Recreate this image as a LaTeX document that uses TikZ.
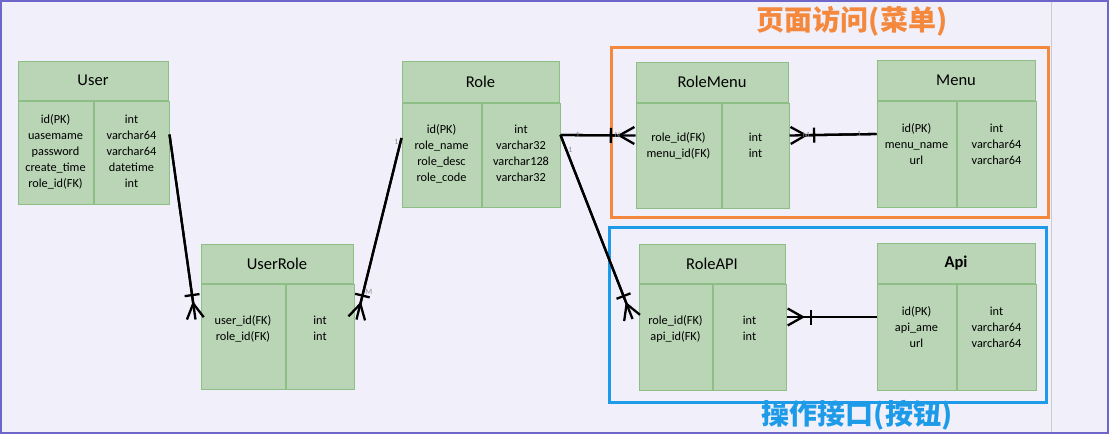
\documentclass[tikz,border=0pt]{standalone}
\usepackage{fontspec}
\setmainfont{Carlito}
\newfontfamily\cjk{Noto Sans CJK SC}
\usepackage{tikz}
\usetikzlibrary{arrows.meta,positioning}
\definecolor{bgpage}{HTML}{F1F0FA}
\definecolor{framec}{HTML}{6F66C9}
\definecolor{tabfill}{HTML}{B9D5B5}
\definecolor{tabline}{HTML}{8DBE86}
\definecolor{menuc}{HTML}{F4883D}
\definecolor{apic}{HTML}{1E9BE8}
\tikzset{
  tab/.style = {draw=tabline, fill=tabfill, line width=1pt, inner sep=0pt},
  hdr/.style = {tab, font=\fontsize{16.5}{18}\selectfont},
  fld/.style = {align=center, inner sep=0pt, anchor=north,
                font=\fontsize{12.3}{16}\selectfont},
  rel/.style = {line width=2.3pt,
                postaction={draw, line width=2.3pt,
                  -{Bar[width=15pt,sep=5pt] Straight Barb[reversed,length=15pt,width=17pt]}}},
  card/.style = {font=\fontsize{8}{9}\selectfont, text=black!45, inner sep=1pt}
}

\begin{document}
\begin{tikzpicture}[x=1pt, y=-1pt]
    \useasboundingbox (0,0) rectangle (1109,434);
    \fill[bgpage] (0,0) rectangle (1109,434);
    \draw[black!20, line width=1pt] (1051,0) -- (1051,434);
    \draw[framec, line width=2pt] (1,1) rectangle (1108,433);

    \node[draw=menuc, line width=3pt, minimum width=437pt, minimum height=170pt] (menugrp) at (829.5,132) {};
    \node[draw=apic, line width=3pt, minimum width=437pt, minimum height=175pt] (apigrp) at (827.5,314.5) {};
    \node[text=menuc, font=\cjk\bfseries\fontsize{28}{30}\selectfont] (menutitle) at (852,21) {页面访问(菜单)};
    \node[text=apic, font=\cjk\bfseries\fontsize{28}{30}\selectfont] (apititle) at (857,415) {操作接口(按钮)};

    \node[hdr, minimum width=150pt, minimum height=39pt] (user) at (93,80.5) {User};
    \node[tab, minimum width=75pt, minimum height=103pt, anchor=north west] (user-l) at (user.south west) {};
    \node[tab, minimum width=75pt, minimum height=103pt, anchor=north west] (user-r) at (user-l.north east) {};
    \node[fld, below=14pt of user-l.north] (user-lt) {id(PK)\\uasemame\\password\\create\_time\\role\_id(FK)};
    \node[fld, below=14pt of user-r.north] (user-rt) {int\\varchar64\\varchar64\\datetime\\int};

    \node[hdr, minimum width=152pt, minimum height=39pt] (userrole) at (277,263.5) {UserRole};
    \node[tab, minimum width=84pt, minimum height=105pt, anchor=north west] (userrole-l) at (userrole.south west) {};
    \node[tab, minimum width=68pt, minimum height=105pt, anchor=north west] (userrole-r) at (userrole-l.north east) {};
    \node[fld, below=32pt of userrole-l.north] (userrole-lt) {user\_id(FK)\\role\_id(FK)};
    \node[fld, below=32pt of userrole-r.north] (userrole-rt) {int\\int};

    \node[hdr, minimum width=157pt, minimum height=41pt] (role) at (480.5,81.5) {Role};
    \node[tab, minimum width=79pt, minimum height=104pt, anchor=north west] (role-l) at (role.south west) {};
    \node[tab, minimum width=78pt, minimum height=104pt, anchor=north west] (role-r) at (role-l.north east) {};
    \node[fld, below=22pt of role-l.north] (role-lt) {id(PK)\\role\_name\\role\_desc\\role\_code};
    \node[fld, below=22pt of role-r.north] (role-rt) {int\\varchar32\\varchar128\\varchar32};

    \node[hdr, minimum width=152pt, minimum height=40pt] (rolemenu) at (712,82) {RoleMenu};
    \node[tab, minimum width=85pt, minimum height=105pt, anchor=north west] (rolemenu-l) at (rolemenu.south west) {};
    \node[tab, minimum width=67pt, minimum height=105pt, anchor=north west] (rolemenu-r) at (rolemenu-l.north east) {};
    \node[fld, below=30pt of rolemenu-l.north] (rolemenu-lt) {role\_id(FK)\\menu\_id(FK)};
    \node[fld, below=30pt of rolemenu-r.north] (rolemenu-rt) {int\\int};

    \node[hdr, minimum width=158pt, minimum height=40pt] (menu) at (956,80) {Menu};
    \node[tab, minimum width=79pt, minimum height=106pt, anchor=north west] (menu-l) at (menu.south west) {};
    \node[tab, minimum width=79pt, minimum height=106pt, anchor=north west] (menu-r) at (menu-l.north east) {};
    \node[fld, below=23pt of menu-l.north] (menu-lt) {id(PK)\\menu\_name\\url};
    \node[fld, below=23pt of menu-r.north] (menu-rt) {int\\varchar64\\varchar64};

    \node[hdr, minimum width=146pt, minimum height=39pt] (roleapi) at (712,263.5) {RoleAPI};
    \node[tab, minimum width=73pt, minimum height=106pt, anchor=north west] (roleapi-l) at (roleapi.south west) {};
    \node[tab, minimum width=73pt, minimum height=106pt, anchor=north west] (roleapi-r) at (roleapi-l.north east) {};
    \node[fld, below=32pt of roleapi-l.north] (roleapi-lt) {role\_id(FK)\\api\_id(FK)};
    \node[fld, below=32pt of roleapi-r.north] (roleapi-rt) {int\\int};

    \node[hdr, minimum width=158pt, minimum height=40pt] (api) at (956,263) {\textbf{Api}};
    \node[tab, minimum width=79pt, minimum height=106pt, anchor=north west] (api-l) at (api.south west) {};
    \node[tab, minimum width=79pt, minimum height=106pt, anchor=north west] (api-r) at (api-l.north east) {};
    \node[fld, below=23pt of api-l.north] (api-lt) {id(PK)\\api\_ame\\url};
    \node[fld, below=23pt of api-r.north] (api-rt) {int\\varchar64\\varchar64};

    \draw[rel] ([yshift=18pt]user-r.east) -- ([xshift=-5pt,yshift=17pt]userrole-l.west);
    \draw[rel] ([yshift=17pt]role-l.west) -- ([xshift=2pt,yshift=17pt]userrole-r.east)
        node[card, pos=0.02, left] (c1) {1} node[card, pos=0.85, right] (c2) {M};
    \draw[rel] ([yshift=20pt]role-r.east) -- ([yshift=20pt]rolemenu-l.west)
        node[card, pos=0.23] (c3) {1} node[card, pos=0.76] (c4) {N};
    \draw[rel] ([yshift=20pt]menu-l.west) -- ([yshift=20pt]rolemenu-r.east)
        node[card, pos=0.2] (c5) {1} node[card, pos=0.81] (c6) {M};
    \draw[rel] ([yshift=20pt]role-r.east) -- ([xshift=-6pt,yshift=18pt]roleapi-l.west)
        node[card, pos=0.08, right] (c7) {1};
    \draw[rel] ([yshift=20pt]api-l.west) -- ([yshift=20pt]roleapi-r.east);
\end{tikzpicture}
\end{document}
